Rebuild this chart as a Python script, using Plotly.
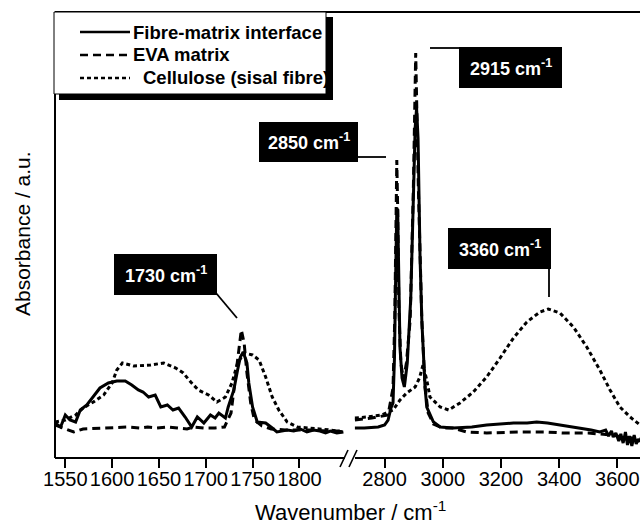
import plotly.graph_objects as go

# ---------------- data (wavenumber cm^-1, absorbance a.u.) ----------------
fm_left_x = [1539, 1545, 1550, 1555, 1561, 1566, 1573, 1580, 1587, 1596, 1605, 1614, 1621, 1628, 1633,
             1639, 1646, 1652, 1659, 1665, 1671, 1678, 1685, 1691, 1698, 1705, 1710, 1714, 1721, 1724,
             1730, 1734, 1737, 1740, 1744, 1746, 1750, 1755, 1764, 1771, 1776, 1787, 1794, 1801, 1808,
             1815, 1822, 1828, 1833, 1840, 1847]
fm_left_y = [0.35, 0.31, 0.43, 0.38, 0.36, 0.48, 0.53, 0.61, 0.70, 0.75, 0.77, 0.77, 0.73, 0.68, 0.66,
             0.61, 0.63, 0.51, 0.53, 0.48, 0.50, 0.41, 0.31, 0.41, 0.35, 0.43, 0.40, 0.45, 0.40, 0.51,
             0.68, 0.88, 1.01, 1.06, 0.95, 0.75, 0.51, 0.36, 0.35, 0.30, 0.26, 0.28, 0.27, 0.29, 0.26,
             0.28, 0.27, 0.25, 0.27, 0.25, 0.26]

eva_left_x = [1539, 1548, 1559, 1569, 1587, 1600, 1616, 1630, 1638, 1648, 1660, 1670, 1680, 1687, 1698,
              1710, 1720, 1727, 1731, 1735, 1738, 1741, 1744, 1748, 1752, 1760, 1770, 1785, 1800, 1815,
              1830, 1847]
eva_left_y = [0.33, 0.30, 0.26, 0.29, 0.30, 0.30, 0.31, 0.30, 0.31, 0.30, 0.31, 0.30, 0.29, 0.31, 0.30,
              0.30, 0.31, 0.45, 0.75, 1.08, 1.28, 1.15, 0.85, 0.55, 0.38, 0.32, 0.29, 0.28, 0.28, 0.28,
              0.27, 0.27]

cel_left_x = [1539, 1550, 1561, 1569, 1580, 1591, 1600, 1605, 1611, 1623, 1641, 1655, 1668, 1676, 1684,
              1692, 1703, 1712, 1721, 1728, 1734, 1741, 1750, 1757, 1764, 1771, 1778, 1787, 1798, 1812,
              1833, 1847]
cel_left_y = [0.36, 0.38, 0.43, 0.50, 0.56, 0.63, 0.75, 0.88, 0.95, 0.92, 0.93, 0.95, 0.90, 0.85, 0.76,
              0.68, 0.63, 0.56, 0.61, 0.75, 0.95, 1.05, 1.03, 0.98, 0.81, 0.61, 0.48, 0.36, 0.31, 0.30,
              0.28, 0.26]

fm_right_x = [2698, 2730, 2778, 2800, 2812, 2822, 2829, 2834, 2838, 2842, 2845, 2849, 2853, 2860, 2868,
              2878, 2890, 2899, 2905, 2910, 2915, 2922, 2928, 2939, 2945, 2968, 2991, 3036, 3100, 3151,
              3200, 3243, 3290, 3323, 3360, 3403, 3440, 3472, 3510, 3540, 3560, 3570, 3580, 3586, 3595,
              3605, 3612, 3620, 3628, 3635, 3642, 3650, 3658, 3665, 3672, 3678]
fm_right_y = [0.30, 0.30, 0.31, 0.33, 0.38, 0.50, 0.55, 1.00, 1.80, 2.50, 2.48, 1.80, 1.10, 0.80, 0.71,
              0.95, 1.60, 2.60, 3.30, 3.50, 3.20, 2.00, 1.38, 0.71, 0.51, 0.36, 0.31, 0.30, 0.31, 0.33,
              0.34, 0.35, 0.35, 0.36, 0.35, 0.33, 0.31, 0.30, 0.28, 0.26, 0.28, 0.22, 0.27, 0.21, 0.25,
              0.17, 0.24, 0.15, 0.26, 0.13, 0.22, 0.12, 0.23, 0.14, 0.19, 0.16]

eva_right_x = [2698, 2756, 2812, 2829, 2835, 2839, 2842, 2845, 2849, 2856, 2865, 2875, 2888, 2899, 2907,
               2916, 2928, 2939, 2950, 2968, 3000, 3036, 3082, 3151, 3266, 3357, 3413, 3460, 3500, 3540,
               3580, 3620, 3650, 3678]
eva_right_y = [0.38, 0.40, 0.43, 0.70, 1.40, 2.40, 2.98, 2.50, 1.50, 0.95, 0.78, 0.95, 1.38, 2.71, 4.05,
               2.71, 1.38, 0.71, 0.45, 0.34, 0.30, 0.30, 0.26, 0.25, 0.26, 0.26, 0.25, 0.25, 0.25, 0.24,
               0.23, 0.21, 0.20, 0.19]

cel_right_x = [2698, 2740, 2790, 2829, 2853, 2876, 2905, 2920, 2932, 2945, 2956, 2975, 2991, 3020, 3059,
               3105, 3151, 3197, 3243, 3289, 3334, 3363, 3403, 3449, 3495, 3540, 3575, 3609, 3644, 3678]
cel_right_y = [0.40, 0.41, 0.43, 0.48, 0.58, 0.65, 0.71, 0.80, 0.93, 0.78, 0.61, 0.55, 0.51, 0.48, 0.55,
               0.66, 0.81, 1.00, 1.20, 1.36, 1.46, 1.49, 1.45, 1.31, 1.11, 0.88, 0.68, 0.51, 0.41, 0.33]

left_ticks = [1550, 1600, 1650, 1700, 1750, 1800]
right_ticks = [2800, 3000, 3200, 3400, 3600]
left_range = [1539, 1853]
right_range = [2688, 3678]
y_range = [0, 4.46]

series_names = ["Fibre-matrix interface", "EVA matrix", "Cellulose (sisal fibre)"]
peak_labels = ["1730", "2850", "2915", "3360"]

# ---------------- layout geometry (pixels) ----------------
W, H = 640, 527
L, R, T, B = 55, 640, 12, 458
PW, PH = R - L, B - T


def px(x):
    return (x - L) / PW


def py(y):
    return (B - y) / PH


FONT = "Liberation Sans, Arial, sans-serif"
lw = 3
styles = {
    "fm": dict(color="black", width=lw, dash="solid"),
    "eva": dict(color="black", width=lw, dash="8px,5px"),
    "cel": dict(color="black", width=lw, dash="4px,3px"),
}

fig = go.Figure()
for xs, ys, st, ax in [
    (cel_left_x, cel_left_y, "cel", "x"), (eva_left_x, eva_left_y, "eva", "x"), (fm_left_x, fm_left_y, "fm", "x"),
    (cel_right_x, cel_right_y, "cel", "x2"), (eva_right_x, eva_right_y, "eva", "x2"), (fm_right_x, fm_right_y, "fm", "x2"),
]:
    fig.add_trace(go.Scatter(x=xs, y=ys, mode="lines", line=styles[st], xaxis=ax, yaxis="y",
                             showlegend=False, hoverinfo="skip"))

tickfont = dict(family=FONT, size=20, color="black")
axis_common = dict(showgrid=False, zeroline=False, showline=False, ticks="outside", ticklen=9,
                   tickwidth=1.5, tickcolor="black", tickfont=tickfont, ticklabelstandoff=-6)

fig.update_layout(
    width=W, height=H,
    margin=dict(l=L, r=W - R, t=T, b=H - B),
    paper_bgcolor="white", plot_bgcolor="white",
    xaxis=dict(domain=[0, px(349)], range=left_range, tickvals=left_ticks, **axis_common),
    xaxis2=dict(domain=[px(352), 1], range=right_range, tickvals=right_ticks, anchor="y", **axis_common),
    yaxis=dict(range=y_range, showticklabels=False, ticks="", showgrid=False, zeroline=False, showline=False),
)

shapes = []
# frame
shapes.append(dict(type="line", xref="paper", yref="paper", x0=px(L), x1=px(R), y0=py(B), y1=py(B),
                   line=dict(color="black", width=2)))
shapes.append(dict(type="line", xref="paper", yref="paper", x0=px(L), x1=px(R), y0=py(T), y1=py(T),
                   line=dict(color="black", width=2)))
shapes.append(dict(type="line", xref="paper", yref="paper", x0=px(L), x1=px(L), y0=py(B), y1=py(T),
                   line=dict(color="black", width=2)))
# break marks
shapes.append(dict(type="rect", xref="paper", yref="paper", x0=px(345), x1=px(355), y0=py(460), y1=py(456),
                   line=dict(width=0), fillcolor="white"))
for x0 in (340, 349):
    shapes.append(dict(type="line", xref="paper", yref="paper", x0=px(x0), x1=px(x0 + 8), y0=py(467), y1=py(450),
                       line=dict(color="black", width=1.6)))

# legend box with shadow
shapes.append(dict(type="rect", xref="paper", yref="paper", x0=px(59), x1=px(333), y0=py(100), y1=py(17),
                   line=dict(width=0), fillcolor="black"))
shapes.append(dict(type="rect", xref="paper", yref="paper", x0=px(54), x1=px(326), y0=py(94), y1=py(12),
                   line=dict(color="black", width=1), fillcolor="white"))
leg_rows = [(32, "fm", 131), (55, "eva", 131), (78, "cel", 141)]
for (yy, st, tx), name in zip(leg_rows, series_names):
    shapes.append(dict(type="line", xref="paper", yref="paper", x0=px(80), x1=px(130), y0=py(yy), y1=py(yy),
                       line=dict(color="black", width=2.5, dash=styles[st]["dash"])))

annotations = []
for (yy, st, tx), name in zip(leg_rows, series_names):
    annotations.append(dict(xref="paper", yref="paper", x=px(tx), y=py(yy), text="<b>%s</b>" % name,
                            xanchor="left", yanchor="middle", showarrow=False,
                            font=dict(family=FONT, size=18.5, color="black")))

# peak label boxes: (label, x0, x1, y0, y1)
boxes = [(peak_labels[0], 114, 217, 254, 295), (peak_labels[1], 259, 358, 122, 162),
         (peak_labels[2], 459, 562, 47, 88), (peak_labels[3], 448, 551, 228, 269)]
for lab, x0, x1, y0, y1 in boxes:
    shapes.append(dict(type="rect", xref="paper", yref="paper", x0=px(x0), x1=px(x1), y0=py(y1), y1=py(y0),
                       line=dict(width=0), fillcolor="black"))
    annotations.append(dict(xref="paper", yref="paper", x=px((x0 + x1) / 2), y=py((y0 + y1) / 2),
                            text="<b>%s cm<sup>-1</sup></b>" % lab, showarrow=False,
                            xanchor="center", yanchor="middle",
                            font=dict(family=FONT, size=18, color="white")))
leaders = [((216, 293), (237, 318)), ((358, 157), (386, 157)), ((430, 48), (459, 48)), ((549, 269), (549, 297))]
for (a, b) in leaders:
    shapes.append(dict(type="line", xref="paper", yref="paper", x0=px(a[0]), x1=px(b[0]), y0=py(a[1]), y1=py(b[1]),
                       line=dict(color="black", width=1.8)))

# axis titles
annotations.append(dict(xref="paper", yref="paper", x=px(350), y=py(511), text="Wavenumber / cm<sup>-1</sup>",
                        showarrow=False, xanchor="center", yanchor="middle",
                        font=dict(family=FONT, size=22, color="black")))
annotations.append(dict(xref="paper", yref="paper", x=px(22), y=py(234), text="Absorbance / a.u.",
                        showarrow=False, xanchor="center", yanchor="middle", textangle=-90,
                        font=dict(family=FONT, size=21, color="black")))

fig.update_layout(shapes=shapes, annotations=annotations)
fig.write_html("out.html")
